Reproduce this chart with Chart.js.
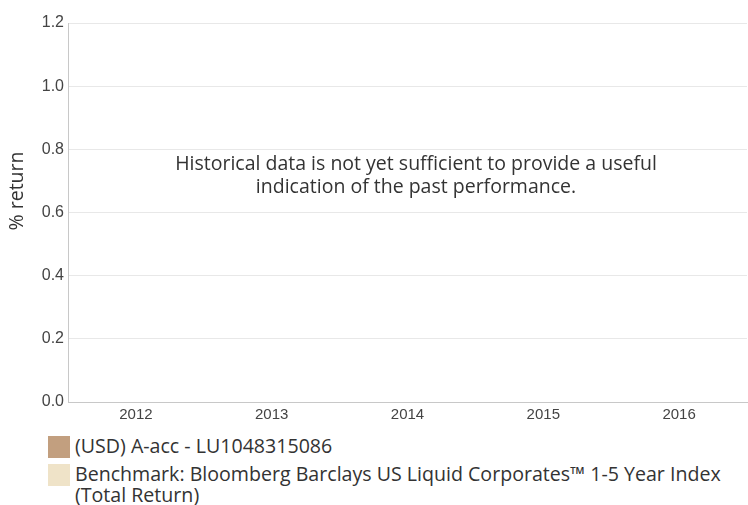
<!DOCTYPE html>
<html>
<head>
<meta charset="utf-8">
<script src="https://cdn.jsdelivr.net/npm/chart.js@4/dist/chart.umd.min.js"></script>
<style>
  body { margin: 0; background: #fff; font-family: "Open Sans", "Noto Sans", sans-serif; }
  #wrap { position: relative; width: 748px; height: 430px; }
  .legend { margin-left: 48px; margin-top: 5px; color: #333; font-size: 19.6px; line-height: 21px; }
  .legend .item { display: flex; align-items: flex-start; margin-bottom: 5px; }
  .legend .box { width: 22px; height: 22px; flex: none; margin-right: 5px; margin-top: 1px; }
</style>
</head>
<body>
<div id="wrap"><canvas id="chart"></canvas></div>
<div class="legend" id="legend"></div>
<script>
"use strict";

const years = ['2012', '2013', '2014', '2015', '2016'];
const fundValues = [null, null, null, null, null];
const benchmarkValues = [null, null, null, null, null];
const seriesNames = [
  '(USD) A-acc - LU1048315086',
  'Benchmark: Bloomberg Barclays US Liquid Corporates\u2122 1-5 Year Index (Total Return)'
];
const seriesColors = ['#c29f7f', '#efe3c8'];
const noDataLines = [
  'Historical data is not yet sufficient to provide a useful',
  'indication of the past performance.'
];

// legend below the chart
let legendDiv = document.getElementById('legend');
seriesNames.forEach(function(name, i) {
  let item = document.createElement('div');
  item.className = 'item';
  let box = document.createElement('span');
  box.className = 'box';
  box.style.background = seriesColors[i];
  let label = document.createElement('span');
  label.textContent = name;
  item.appendChild(box);
  item.appendChild(label);
  legendDiv.appendChild(item);
});

// message in the middle + rotated axis title
const overlayText = {
  id: 'overlayText',
  afterDraw: function(chart) {
    let ctx = chart.ctx;
    ctx.save();
    ctx.fillStyle = '#333';
    ctx.font = '19.5px "Open Sans", "Noto Sans", sans-serif';
    ctx.textAlign = 'center';
    ctx.textBaseline = 'middle';
    noDataLines.forEach(function(line, i) {
      ctx.fillText(line, 416, 164 + i * 23);
    });
    ctx.translate(17, 191);
    ctx.rotate(-Math.PI / 2);
    ctx.fillText('% return', 0, 0);
    ctx.restore();
  }
};

new Chart(document.getElementById('chart'), {
  type: 'bar',
  data: {
    labels: years,
    datasets: [
      { label: seriesNames[0], data: fundValues, backgroundColor: seriesColors[0] },
      { label: seriesNames[1], data: benchmarkValues, backgroundColor: seriesColors[1] }
    ]
  },
  options: {
    responsive: true,
    maintainAspectRatio: false,
    animation: false,
    layout: { padding: { top: 23, right: 1, left: 0, bottom: 0 } },
    plugins: {
      legend: { display: false },
      tooltip: { enabled: false }
    },
    scales: {
      x: {
        grid: { display: false, drawTicks: false },
        border: { color: '#c8c8c8' },
        ticks: { color: '#444', font: { family: '"Liberation Sans", Arial, sans-serif', size: 15 }, padding: 4 },
        afterFit: function(scale) { scale.height = 28; }
      },
      y: {
        min: 0,
        max: 1.2,
        grid: { color: '#e8e8e8', drawTicks: false },
        border: { color: '#c8c8c8' },
        ticks: {
          stepSize: 0.2,
          color: '#444',
          padding: 4,
          font: { family: '"Liberation Sans", Arial, sans-serif', size: 16 },
          callback: function(v) { return Number(v).toFixed(1); }
        },
        afterFit: function(scale) { scale.width = 68; }
      }
    }
  },
  plugins: [overlayText]
});
</script>
</body>
</html>
